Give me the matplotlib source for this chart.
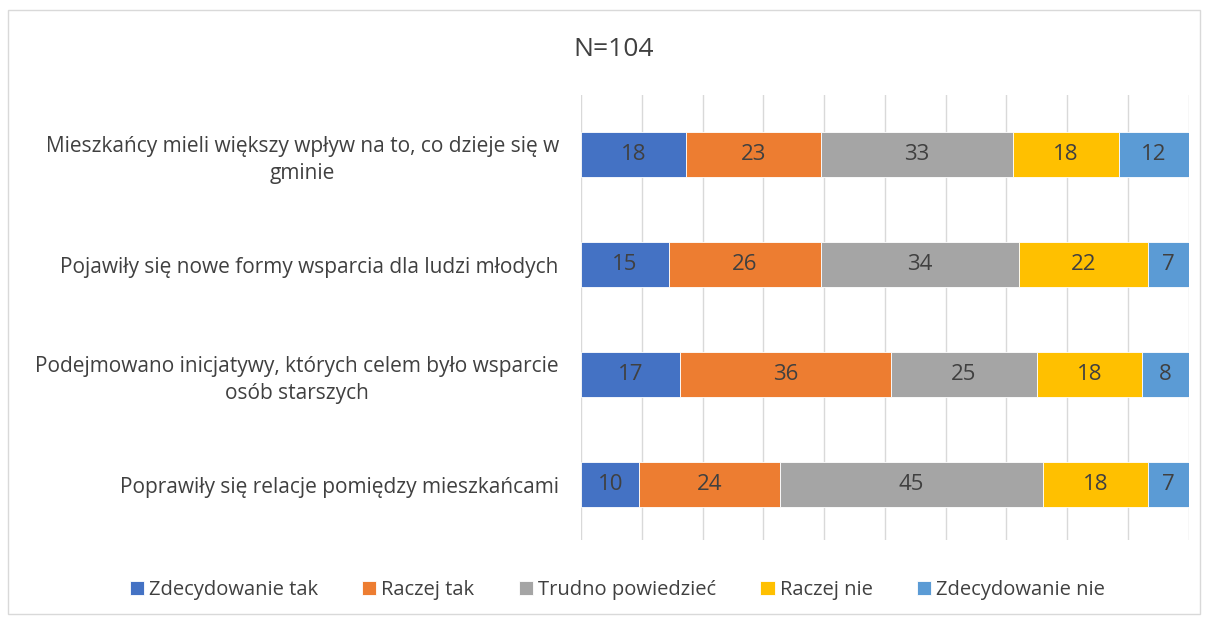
import numpy as np
import matplotlib.pyplot as plt
from matplotlib.patches import Rectangle

plt.rcParams['font.family'] = ['Open Sans', 'DejaVu Sans']

# Dane z wykresu (N=104)
statements = [
    'Mieszkańcy mieli większy wpływ na to, co dzieje się w\ngminie',
    'Pojawiły się nowe formy wsparcia dla ludzi młodych',
    'Podejmowano inicjatywy, których celem było wsparcie\nosób starszych',
    'Poprawiły się relacje pomiędzy mieszkańcami',
]
answers = ['Zdecydowanie tak', 'Raczej tak', 'Trudno powiedzieć', 'Raczej nie', 'Zdecydowanie nie']
zdecydowanie_tak = [18, 15, 17, 10]
raczej_tak = [23, 26, 36, 24]
trudno_powiedziec = [33, 34, 25, 45]
raczej_nie = [18, 22, 18, 18]
zdecydowanie_nie = [12, 7, 8, 7]
colors = ['#4472C4', '#ED7D31', '#A5A5A5', '#FFC000', '#5B9BD5']

series = np.array([zdecydowanie_tak, raczej_tak, trudno_powiedziec, raczej_nie, zdecydowanie_nie], dtype=float)
totals = series.sum(axis=0)
shares = series / totals * 100

fig = plt.figure(figsize=(12.08, 6.24), dpi=100)
ax = fig.add_axes([0.481, 0.135, 0.503, 0.713])

y = np.arange(len(statements))
left = np.zeros(len(statements))
for vals, sh, name, col in zip(series, shares, answers, colors):
    bars = ax.barh(y, sh, left=left, height=0.41, color=col, edgecolor='white',
                   linewidth=0.6, label=name, zorder=3)
    for b, v in zip(bars, vals):
        ax.text(b.get_x() + b.get_width() / 2, b.get_y() + b.get_height() / 2, f'{v:.0f}',
                ha='center', va='center', fontsize=16, color='#404040', zorder=4)
    left += sh

ax.set_xlim(0, 100)
ax.set_ylim(3.5, -0.545)
ax.set_xticks(np.arange(0, 101, 10))
ax.set_xticklabels([])
ax.tick_params(axis='x', length=0)
ax.tick_params(axis='y', length=0, pad=16)
ax.set_yticks(y)
ax.set_yticklabels(statements, fontsize=15, color='#404040', multialignment='center',
                   linespacing=1.35)
ax.grid(axis='x', color='#D9D9D9', linewidth=1, zorder=0)
for s in ax.spines.values():
    s.set_visible(False)

fig.text(0.508, 0.92, 'N=104', ha='center', va='center', fontsize=19, color='#404040')

fig.legend(*ax.get_legend_handles_labels(), loc='center', bbox_to_anchor=(0.511, 0.054),
           ncol=5, frameon=False, fontsize=14.5, labelcolor='#404040',
           handlelength=0.7, handleheight=0.7, handletextpad=0.25, columnspacing=2.2)

fig.patches.append(Rectangle((0.007, 0.016), 0.986, 0.968, transform=fig.transFigure,
                             fill=False, edgecolor='#D9D9D9', linewidth=1))

fig.savefig('out.png', dpi=100)
